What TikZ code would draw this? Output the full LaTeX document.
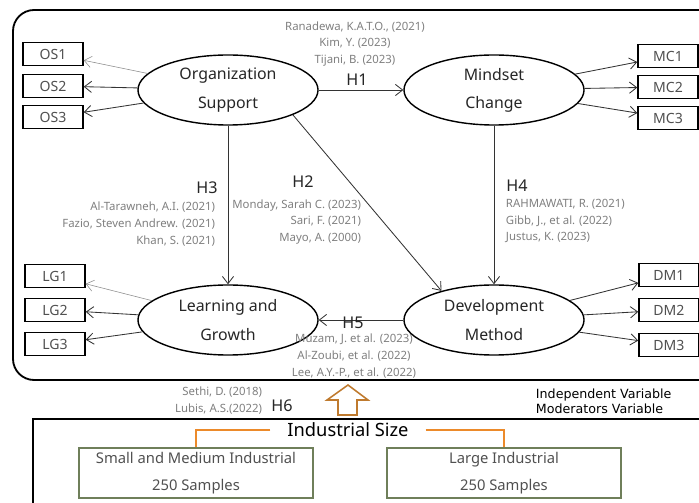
\documentclass[tikz,border=0pt]{standalone}
\usepackage{fontspec}
\setmainfont{Noto Sans}
\newfontfamily\varfont{DejaVu Sans}
\usetikzlibrary{shapes.geometric}
\usetikzlibrary{arrows.meta}
\usetikzlibrary{positioning}

\definecolor{refgray}{HTML}{7F7F7F}
\definecolor{labelgray}{HTML}{505050}
\definecolor{boxgreen}{HTML}{6F7F5A}
\definecolor{linkorange}{HTML}{EC8A2A}
\definecolor{arrowbrown}{HTML}{BF7A2E}

\tikzset{
    >={Straight Barb[length=1.8mm, width=2.8mm]},
    latent/.style={draw, ellipse, line width=1pt, inner sep=0pt,
        minimum width=4.5cm, minimum height=1.75cm, align=center,
        font=\fontsize{11.3}{20}\selectfont, text=black!85},
    indbox/.style={draw, line width=1pt, inner sep=0pt,
        minimum width=1.5cm, minimum height=0.575cm,
        font=\fontsize{10}{12}\selectfont, text=labelgray},
    path/.style={->, line width=0.6pt, draw=black!80},
    faintpath/.style={->, line width=0.4pt, draw=black!45},
    hyp/.style={font=\fontsize{11.5}{13}\selectfont, text=black!85},
    refs/.style={font=\fontsize{8.1}{12}\selectfont, text=refgray},
    groupbox/.style={draw=boxgreen, line width=1.2pt, inner sep=0pt,
        minimum width=5.85cm, minimum height=1.25cm, align=center,
        font=\fontsize{10.5}{19}\selectfont, text=labelgray}
}

\begin{document}
\begin{tikzpicture}[x=0.025cm, y=-0.025cm]
    \useasboundingbox (0,0) rectangle (699,503);
    \clip (0,0) rectangle (699,503);

    % frames
    \draw[line width=1.3pt, rounded corners=15] (13,10) rectangle (730,380);
    \draw[line width=1.3pt] (33,419) rectangle (730,540);

    % latent variables
    \node[latent] (org) at (228,90) {Organization\\Support};
    \node[latent] (mind) at (494,90) {Mindset\\Change};
    \node[latent] (learn) at (228,320) {Learning and\\Growth};
    \node[latent] (dev) at (494,320) {Development\\Method};

    % indicators
    \foreach \n/\y in {1/54,2/86,3/117} {
        \node[indbox] (OS\n) at (53,\y) {OS\n};
    }
    \foreach \n/\y in {1/56,2/87,3/118} {
        \node[indbox] (MC\n) at (668,\y) {MC\n};
    }
    \foreach \n/\y in {1/276,2/310,3/344} {
        \node[indbox] (LG\n) at (55,\y) {LG\n};
    }
    \foreach \n/\y in {1/275,2/310,3/345} {
        \node[indbox] (DM\n) at (669,\y) {DM\n};
    }

    \draw[faintpath] (org) -- (OS1);
    \draw[faintpath] (learn) -- (LG1);
    \foreach \n in {2,3} {
        \draw[path] (org) -- (OS\n);
        \draw[path] (learn) -- (LG\n);
    }
    \foreach \n in {1,2,3} {
        \draw[path] (mind) -- (MC\n);
        \draw[path] (dev) -- (DM\n);
    }

    % hypotheses
    \draw[path] (org) -- (mind);
    \draw[path] (org.-21) -- (dev.151);
    \draw[path] (org) -- (learn);
    \draw[path] (mind) -- (dev);
    \draw[path] (dev) -- (learn);

    \node[hyp] (h1) at (357,80) {H1};
    \node[refs, align=center] (h1refs) at (355,44) {Ranadewa, K.A.T.O., (2021)\\Kim, Y. (2023)\\Tijani, B. (2023)};
    \node[hyp] (h2) at (303,182) {H2};
    \node[refs, align=right, anchor=east] (h2refs) at (366,222) {Monday, Sarah C. (2023)\\Sari, F. (2021)\\Mayo, A. (2000)};
    \node[hyp] (h3) at (207,188) {H3};
    \node[refs, align=right, anchor=east] (h3refs) at (220,224) {Al-Tarawneh, A.I. (2021)\\Fazio, Steven Andrew. (2021)\\Khan, S. (2021)};
    \node[hyp] (h4) at (517,186) {H4};
    \node[refs, align=left, anchor=west] (h4refs) at (501,221) {RAHMAWATI, R. (2021)\\Gibb, J., et al. (2022)\\Justus, K. (2023)};
    \node[hyp] (h5) at (353,323) {H5};
    \node[refs, align=center] (h5refs) at (354,356) {Muzam, J. et al. (2023)\\Al-Zoubi, et al. (2022)\\Lee, A.Y.-P., et al. (2022)};

    % moderator
    \draw[arrowbrown, line width=1.1pt, line join=miter]
        (338,415) -- (338,400) -- (327,400) -- (348,385) -- (368,400)
        -- (357,400) -- (357,415) -- cycle;
    \node[hyp] (h6) at (282,406) {H6};
    \node[refs, align=right, anchor=east] (h6refs) at (267,401) {Sethi, D. (2018)\\Lubis, A.S.(2022)};
    \node[anchor=west, align=left, font=\varfont\fontsize{9}{10.7}\selectfont] (vars) at (531,401)
        {Independent Variable\\Moderators Variable};

    \node[font=\fontsize{13}{14}\selectfont, inner sep=12] (size) at (348,430) {Industrial Size};
    \node[groupbox] (smbox) at (196,473) {Small and Medium Industrial\\250 Samples};
    \node[groupbox] (lgbox) at (504,473) {Large Industrial\\250 Samples};
    \draw[linkorange, line width=1.1pt] (size.west) -| (smbox.north);
    \draw[linkorange, line width=1.1pt] (size.east) -| (lgbox.north);
\end{tikzpicture}
\end{document}
